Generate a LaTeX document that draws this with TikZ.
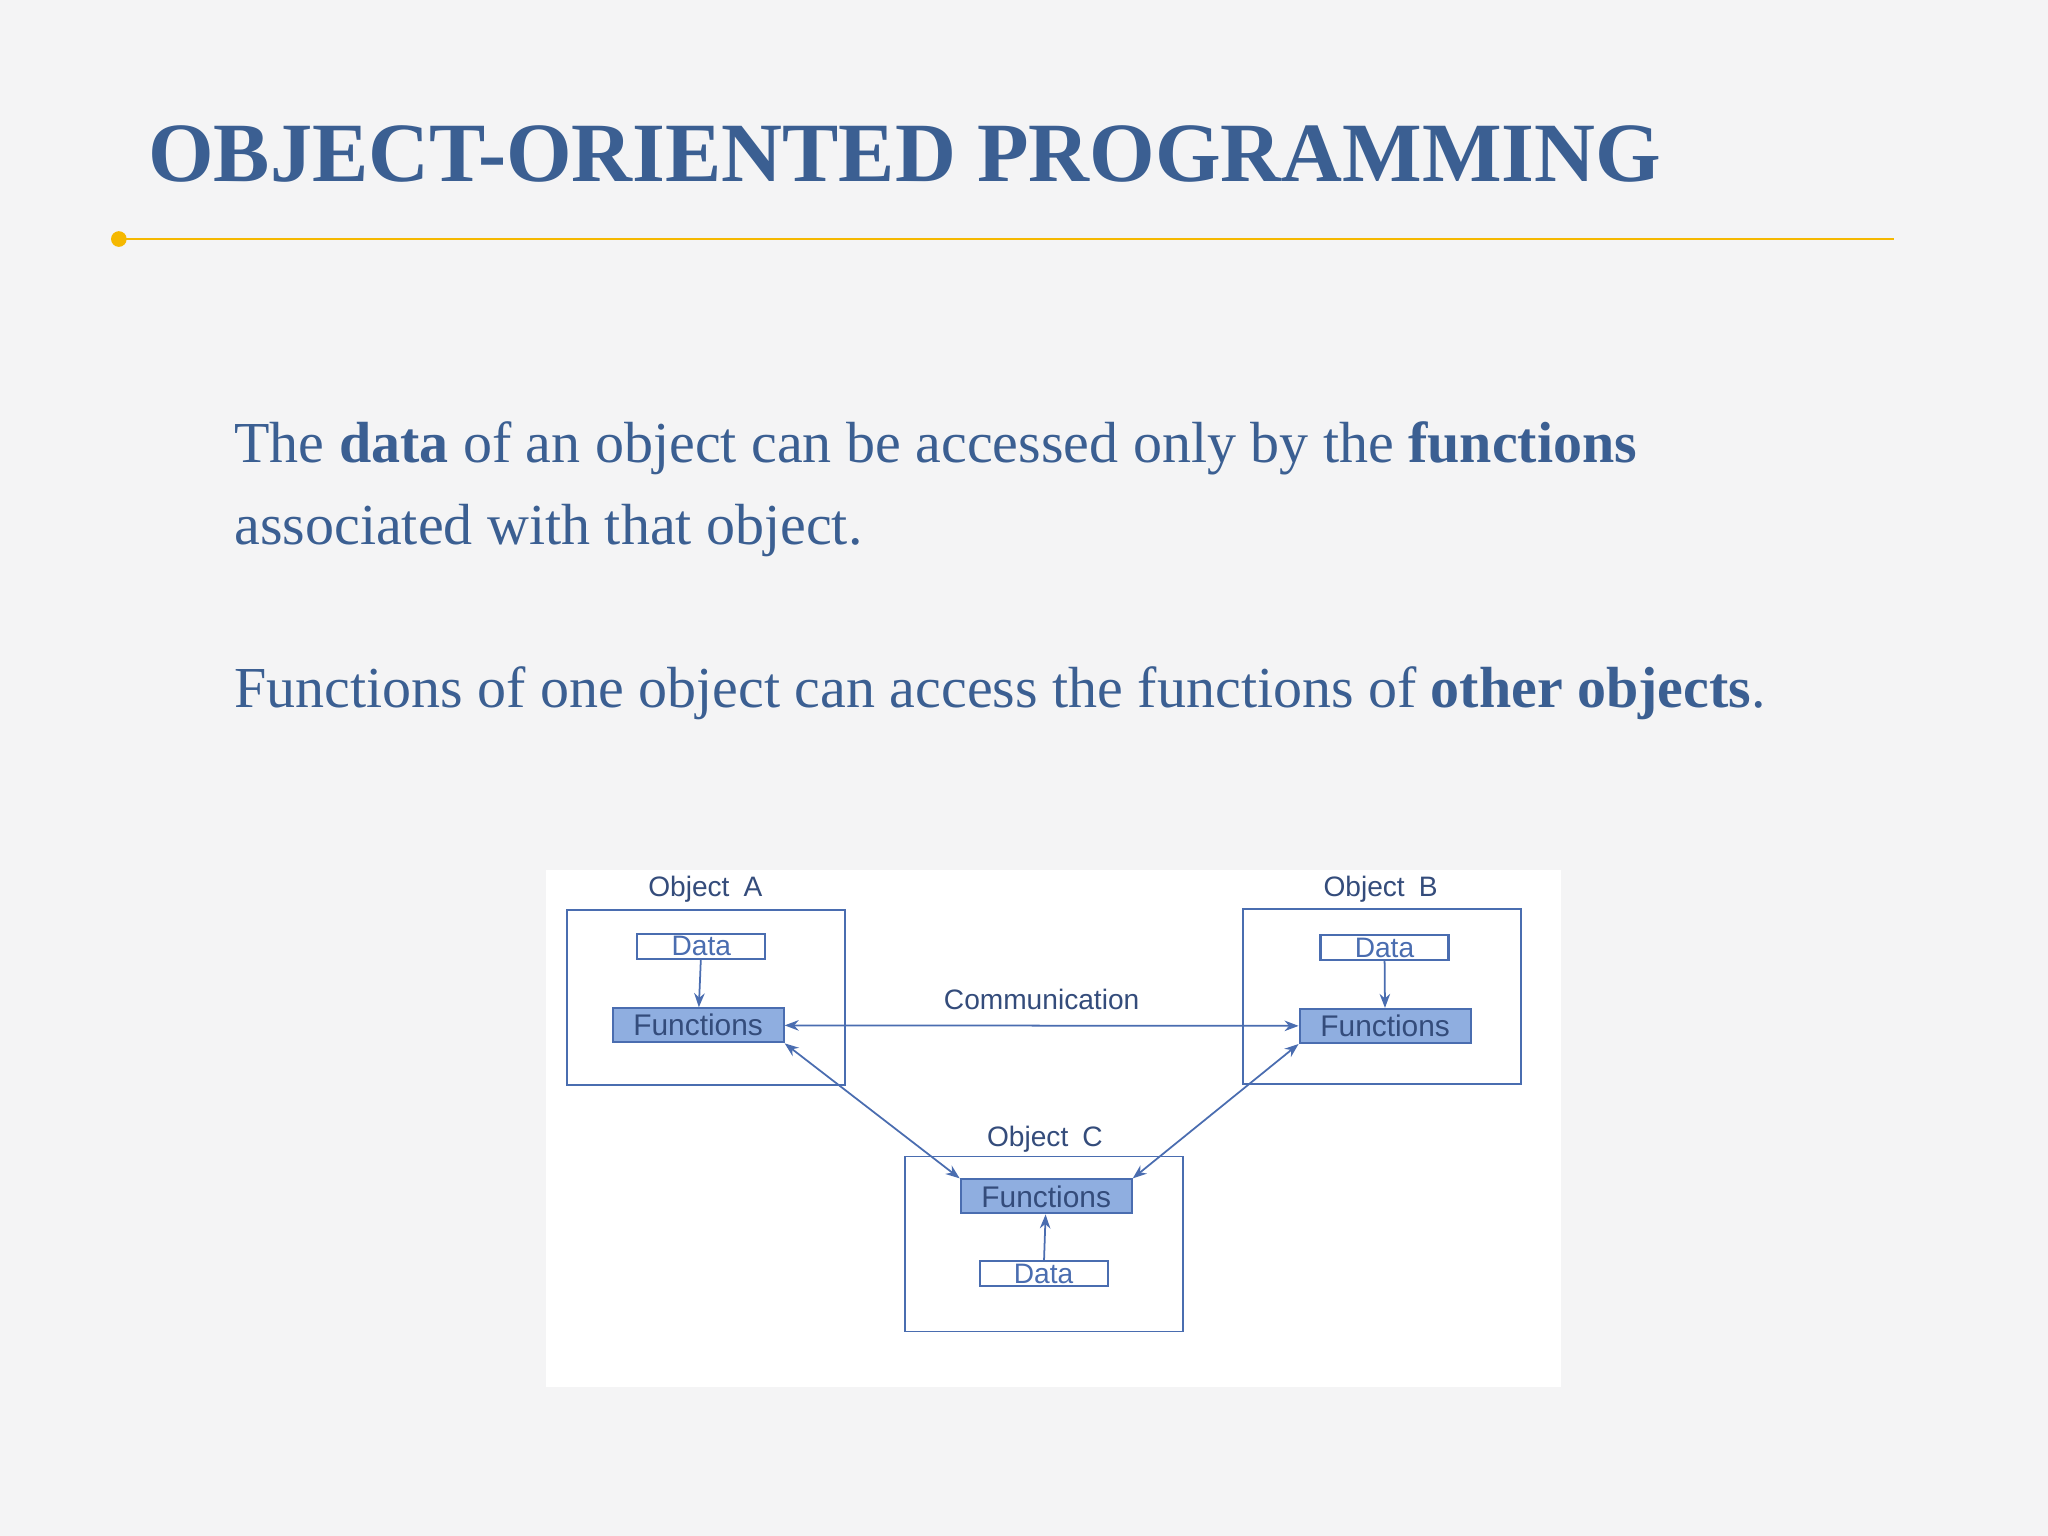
\documentclass[tikz,border=0pt]{standalone}
\usepackage{fontspec}
\setmainfont{Liberation Serif}
\newfontfamily\diagfont{Liberation Sans}
\usetikzlibrary{arrows.meta}
\definecolor{ttl}{HTML}{3B5F92}
\definecolor{ln}{HTML}{4A6DB0}
\definecolor{fn}{HTML}{8FAEE0}
\definecolor{acc}{HTML}{F5B800}
\definecolor{bg}{HTML}{F4F4F5}
\tikzset{
  objbox/.style={draw=ln,line width=0.5pt,minimum width=2.78cm,minimum height=1.75cm},
  databox/.style={draw=ln,fill=white,line width=0.6pt,minimum width=1.28cm,minimum height=0.25cm,inner sep=0pt,font=\diagfont\fontsize{8}{8}\selectfont,text=ln},
  funcbox/.style={draw=ln,fill=fn,line width=0.6pt,minimum width=1.71cm,minimum height=0.34cm,inner sep=0pt,font=\diagfont\fontsize{8.5}{8.5}\selectfont,text=ln!70!black},
  lbl/.style={font=\diagfont\fontsize{8}{8}\selectfont,text=ln!70!black},
  link/.style={ln,line width=0.5pt,-{Stealth[length=4pt]}},
}
\begin{document}
\begin{tikzpicture}[x=0.01306cm,y=-0.01306cm]
\fill[bg] (0,0) rectangle (1568,1176);
\useasboundingbox (0,0) rectangle (1568,1176);

% title
\node[anchor=west,text=ttl,font=\bfseries\fontsize{24}{24}\selectfont] (title) at (104,118) {OBJECT-ORIENTED PROGRAMMING};
\draw[acc,line width=0.8pt] (91,183) -- (1450,183);
\fill[acc] (91,183) circle (6);

% body text
\node[anchor=west,text=ttl,font=\fontsize{16.5}{16.5}\selectfont] (l1) at (170,343) {The \textbf{data} of an object can be accessed only by the \textbf{functions}};
\node[anchor=west,text=ttl,font=\fontsize{16.5}{16.5}\selectfont] (l2) at (170,406) {associated with that object.};
\node[anchor=west,text=ttl,font=\fontsize{16.5}{16.5}\selectfont] (l3) at (170,531) {Functions of one object can access the functions of \textbf{other objects}.};

% diagram
\fill[white] (418,666) rectangle (1195,1062);

\node[objbox] (objA) at (540.5,764) {};
\node[objbox] (objB) at (1058,763) {};
\node[objbox] (objC) at (799.5,952.5) {};
\node[lbl] (labA) at (540,681) {Object\enspace A};
\node[lbl] (labB) at (1057,681) {Object\enspace B};
\node[lbl] (labC) at (800,872) {Object\enspace C};

\node[databox] (dataA) at (537,724.5) {Data};
\node[databox] (dataB) at (1060,725.5) {Data};
\node[databox] (dataC) at (799,975) {Data};
\node[funcbox] (funcA) at (534.5,785) {Functions};
\node[funcbox] (funcB) at (1060.5,785.5) {Functions};
\node[funcbox] (funcC) at (801,916) {Functions};

\draw[link] (dataA) -- (funcA);
\draw[link] (dataB) -- (funcB);
\draw[link] (dataC) -- (funcC);
\draw[link,{Stealth[length=4pt]}-{Stealth[length=4pt]}] (funcA) -- node[lbl,above=1pt] (comm) {Communication} (funcB);
\draw[link,{Stealth[length=4pt]}-{Stealth[length=4pt]}] (funcA.south east) -- (funcC.north west);
\draw[link,{Stealth[length=4pt]}-{Stealth[length=4pt]}] (funcB.south west) -- (funcC.north east);
\end{tikzpicture}
\end{document}
